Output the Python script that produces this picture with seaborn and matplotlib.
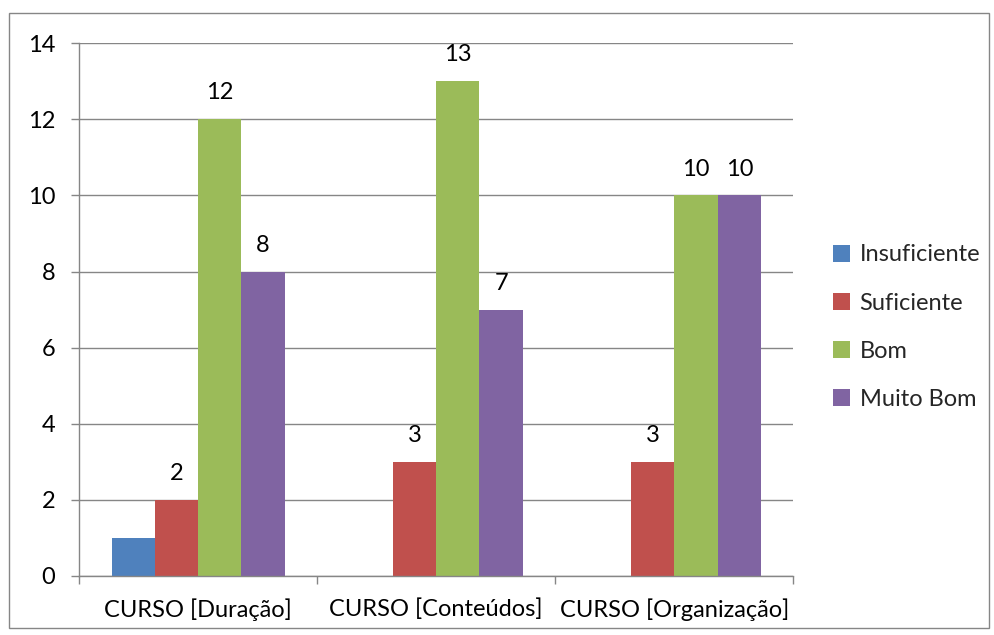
import numpy as np
import pandas as pd
import matplotlib
matplotlib.use("Agg")
import matplotlib.pyplot as plt
from matplotlib.patches import Rectangle
import seaborn as sns

categories = ["CURSO [Duração]", "CURSO [Conteúdos]", "CURSO [Organização]"]
series = ["Insuficiente", "Suficiente", "Bom", "Muito Bom"]
insuficiente = [1, 0, 0]
suficiente = [2, 3, 3]
bom = [12, 13, 10]
muito_bom = [8, 7, 10]
# which series get data labels (Insuficiente has none in the source)
labelled = {"Insuficiente": False, "Suficiente": True, "Bom": True, "Muito Bom": True}
colors = ["#4F81BD", "#C0504D", "#9BBB59", "#8064A2"]

values = {"Insuficiente": insuficiente, "Suficiente": suficiente,
          "Bom": bom, "Muito Bom": muito_bom}
rows = []
for s in series:
    for c, v in zip(categories, values[s]):
        rows.append({"categoria": c, "serie": s, "valor": v})
df = pd.DataFrame(rows)

sns.set_theme(style="white")
plt.rcParams["font.family"] = ["Lato", "DejaVu Sans"]
FS = 17

fig = plt.figure(figsize=(9.95, 6.35), dpi=100)
ax = fig.add_axes([0.0794, 0.093, 0.718, 0.839])

sns.barplot(data=df, x="categoria", y="valor", hue="serie", hue_order=series,
            palette=colors, width=0.727, saturation=1, ax=ax, legend=True,
            linewidth=0)

grid_c = "#868686"
ax.set_ylim(0, 14)
ax.set_xlim(-0.5, 2.5)
ax.set_yticks(range(0, 15, 2))
ax.yaxis.grid(True, color=grid_c, linewidth=1)
ax.set_axisbelow(True)
for sp in ["top", "right"]:
    ax.spines[sp].set_visible(False)
for sp in ["left", "bottom"]:
    ax.spines[sp].set_color(grid_c)
    ax.spines[sp].set_linewidth(1)
ax.set_xlabel("")
ax.set_ylabel("")
ax.tick_params(axis="y", which="both", left=True, length=6, color=grid_c,
               width=1, labelsize=FS, pad=11, labelcolor="black")
# category separators on x axis
ax.set_xticks([-0.5, 0.5, 1.5, 2.5], minor=True)
ax.tick_params(axis="x", which="minor", bottom=True, length=6, color=grid_c, width=1)
ax.tick_params(axis="x", which="major", bottom=False, labelsize=FS, pad=10,
               labelcolor="black")

for cont, s in zip(ax.containers, series):
    if not labelled[s]:
        continue
    for bar in cont:
        h = bar.get_height()
        if h > 0:
            ax.annotate(f"{int(h)}", (bar.get_x() + bar.get_width() / 2, h),
                        xytext=(0, 19), textcoords="offset points",
                        ha="center", va="center", fontsize=FS, color="black")

ax.legend(loc="center left", bbox_to_anchor=(1.025, 0.467), frameon=False,
          fontsize=FS, handlelength=0.75, handleheight=0.75, handletextpad=0.4,
          labelspacing=1.15)

fig.patches.append(Rectangle((0.009, 0.011), 0.985, 0.968, transform=fig.transFigure,
                             fill=False, edgecolor="#868686", linewidth=1))

fig.savefig("out.png", dpi=100)
